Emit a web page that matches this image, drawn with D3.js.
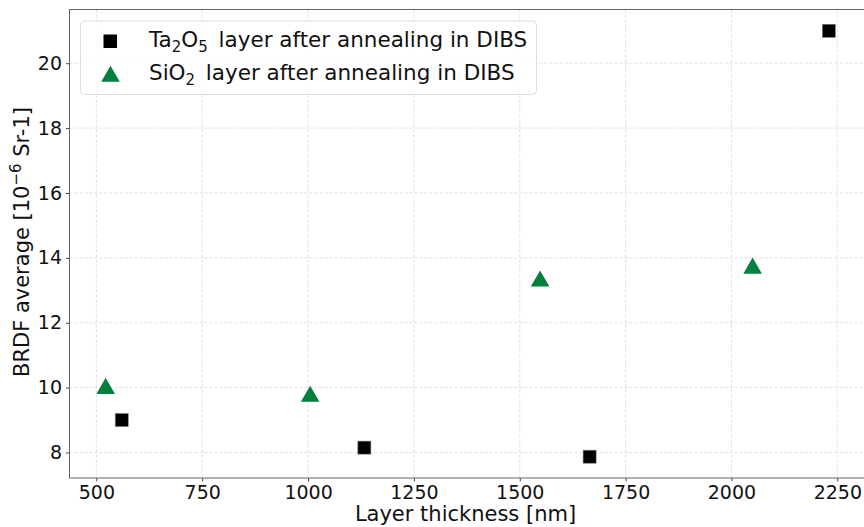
<!DOCTYPE html>
<html>
<head>
<script src="https://d3js.org/d3.v7.min.js"></script>
<style>
  body { margin: 0; background: #fff; }
  text { font-family: "DejaVu Sans", sans-serif; fill: #111; }
</style>
</head>
<body>
<svg id="chart" width="864" height="527"></svg>
<script>
// data
var taThickness = [560, 1133, 1665, 2230];
var taBrdf = [9.0, 8.15, 7.87, 21.0];
var siThickness = [522, 1005, 1548, 2050];
var siBrdf = [10.0, 9.76, 13.31, 13.71];
var xTicks = [500, 750, 1000, 1250, 1500, 1750, 2000, 2250];
var yTicks = [8, 10, 12, 14, 16, 18, 20];

var margin = {top: 9.5, right: -1, bottom: 49, left: 69.5};
var width = 864 - margin.left - margin.right;
var height = 527 - margin.top - margin.bottom;

var svg = d3.select("#chart");
var g = svg.append("g").attr("transform", "translate(" + margin.left + "," + margin.top + ")");

// matplotlib-style 5% padding
function padded(vals) {
  var e = d3.extent(vals), p = (e[1] - e[0]) * 0.05;
  return [e[0] - p, e[1] + p];
}
var x = d3.scaleLinear().domain(padded(taThickness.concat(siThickness))).range([0, width]);
var y = d3.scaleLinear().domain(padded(taBrdf.concat(siBrdf))).range([height, 0]);

// grid
g.append("g").selectAll("line").data(xTicks).enter().append("line")
  .attr("x1", d => x(d)).attr("x2", d => x(d)).attr("y1", 0).attr("y2", height)
  .attr("stroke", "#d8d8d8").attr("stroke-width", 0.8).attr("stroke-dasharray", "3,2");
g.append("g").selectAll("line").data(yTicks).enter().append("line")
  .attr("y1", d => y(d)).attr("y2", d => y(d)).attr("x1", 0).attr("x2", width)
  .attr("stroke", "#d8d8d8").attr("stroke-width", 0.8).attr("stroke-dasharray", "3,2");

// axes
var xAxis = g.append("g").attr("transform", "translate(0," + height + ")")
  .call(d3.axisBottom(x).tickValues(xTicks).tickSize(3.5).tickPadding(4).tickFormat(d3.format("d")));
var yAxis = g.append("g")
  .call(d3.axisLeft(y).tickValues(yTicks).tickSize(3.5).tickPadding(4).tickFormat(d3.format("d")));
[xAxis, yAxis].forEach(function(a) {
  a.select(".domain").remove();
  a.selectAll("line").attr("stroke", "#444");
  a.selectAll("text").style("font-size", "19px").style("font-family", "DejaVu Sans").attr("fill", "#111");
});

// spines
g.append("rect").attr("x", 0).attr("y", 0).attr("width", width).attr("height", height)
  .attr("fill", "none").attr("stroke", "#666").attr("stroke-width", 1);

// markers
var tri = d3.symbol().type(d3.symbolTriangle).size(150);
g.append("g").selectAll("path").data(siThickness).enter().append("path")
  .attr("d", tri)
  .attr("transform", (d, i) => "translate(" + x(d) + "," + (y(siBrdf[i]) + 1) + ")")
  .attr("fill", "#00803c");
g.append("g").selectAll("rect").data(taThickness).enter().append("rect")
  .attr("x", d => x(d) - 6.5).attr("y", (d, i) => y(taBrdf[i]) - 6.5)
  .attr("width", 13).attr("height", 13)
  .attr("fill", "#000").attr("stroke", "#777").attr("stroke-width", 0.6);

// legend
var leg = svg.append("g");
leg.append("rect").attr("x", 80.5).attr("y", 21).attr("width", 456).attr("height", 73.5).attr("rx", 4)
  .attr("fill", "#fff").attr("fill-opacity", 0.8).attr("stroke", "#dcdcdc");
leg.append("rect").attr("x", 103.5).attr("y", 34.5).attr("width", 13.5).attr("height", 13.5).attr("fill", "#000");
leg.append("path").attr("d", tri).attr("transform", "translate(110.5,76.5)").attr("fill", "#00803c");

var lt = leg.append("text").attr("x", 149).attr("y", 47).style("font-size", "21.5px");
lt.append("tspan").text("Ta");
lt.append("tspan").text("2").style("font-size", "15px").attr("dy", 5);
lt.append("tspan").text("O").attr("dy", -5);
lt.append("tspan").text("5").style("font-size", "15px").attr("dy", 5);
lt.append("tspan").text("\u2002layer after annealing in DIBS").attr("dy", -5);
var ls = leg.append("text").attr("x", 149).attr("y", 80).style("font-size", "21.5px");
ls.append("tspan").text("SiO");
ls.append("tspan").text("2").style("font-size", "15px").attr("dy", 5);
ls.append("tspan").text("\u2002layer after annealing in DIBS").attr("dy", -5);

// axis labels
svg.append("text").attr("x", 465.5).attr("y", 521)
  .attr("text-anchor", "middle").style("font-size", "21px").text("Layer thickness [nm]");
var yl = svg.append("text").attr("transform", "translate(28.5,242) rotate(-90)")
  .attr("text-anchor", "middle").style("font-size", "21px");
yl.append("tspan").text("BRDF average [10");
yl.append("tspan").text("\u22126").style("font-size", "15px").attr("dy", -8);
yl.append("tspan").text(" Sr-1]").attr("dy", 8);
</script>
</body>
</html>
